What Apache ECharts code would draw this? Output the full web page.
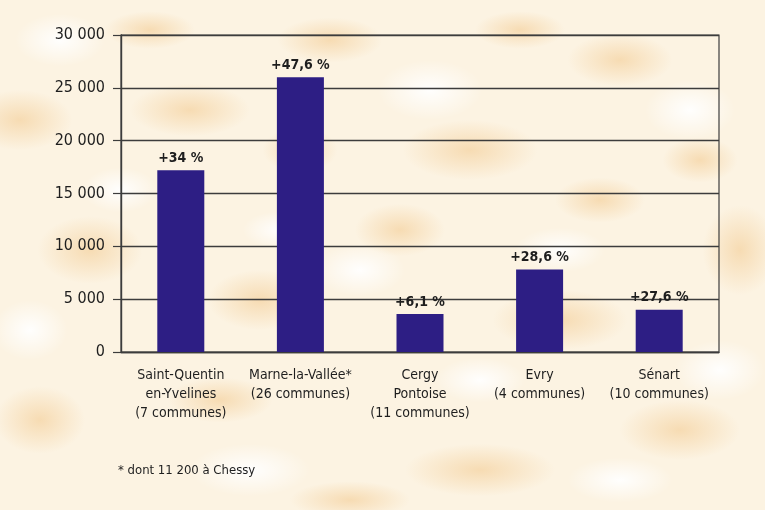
<!DOCTYPE html>
<html>
<head>
<meta charset="utf-8">
<script src="https://cdn.jsdelivr.net/npm/echarts@6/dist/echarts.min.js"></script>
<style>
  html, body { margin: 0; padding: 0; }
  body { width: 765px; height: 510px; overflow: hidden; background-color: #fcf3e2; }
  #chart { width: 765px; height: 510px; position: relative; }
</style>
</head>
<body>
<div id="chart"></div>
<script>
// Villes nouvelles d'Île-de-France : volume et évolution
const categories = [
  'Saint-Quentin\nen-Yvelines\n(7 communes)',
  'Marne-la-Vallée*\n(26 communes)',
  'Cergy\nPontoise\n(11 communes)',
  'Evry\n(4 communes)',
  'Sénart\n(10 communes)'
];
const values = [17200, 26000, 3600, 7800, 4000];
const growthLabels = ['+34 %', '+47,6 %', '+6,1 %', '+28,6 %', '+27,6 %'];
const footnote = '* dont 11 200 à Chessy';

// Paper texture: peach blotches [x, y, rx, ry] and white clearings
const peachSpots = [
  [20, 120, 70, 40], [190, 110, 80, 35], [330, 40, 70, 30], [470, 150, 90, 40],
  [620, 60, 70, 35], [740, 250, 50, 60], [90, 250, 70, 45], [260, 300, 70, 40],
  [400, 230, 60, 35], [560, 320, 90, 40], [680, 430, 80, 40], [480, 470, 100, 35],
  [40, 420, 60, 45], [220, 400, 70, 30], [350, 500, 80, 25], [600, 200, 60, 30],
  [150, 30, 60, 25], [700, 160, 50, 30], [300, 150, 50, 30], [520, 30, 60, 25]
];
const whiteSpots = [
  [60, 40, 60, 35], [430, 90, 70, 40], [690, 110, 60, 40], [360, 270, 60, 35],
  [250, 470, 80, 35], [720, 370, 60, 40], [120, 190, 50, 30], [560, 250, 60, 30],
  [30, 330, 50, 40], [620, 480, 70, 30], [280, 230, 50, 25], [480, 380, 60, 30]
];
const layers = [];
whiteSpots.forEach(([x, y, rx, ry]) => layers.push(
  `radial-gradient(ellipse ${rx}px ${ry}px at ${x}px ${y}px, rgba(255,255,255,0.95), rgba(255,255,255,0) 75%)`));
peachSpots.forEach(([x, y, rx, ry]) => layers.push(
  `radial-gradient(ellipse ${rx}px ${ry}px at ${x}px ${y}px, rgba(242,200,140,0.55), rgba(242,200,140,0) 75%)`));
document.body.style.backgroundImage = layers.join(',');

const FONT = '"DejaVu Sans Condensed", "Liberation Sans Narrow", "Liberation Sans", sans-serif';
const INK = '#1e1e1e';
const BAR = '#2d1e84';
const LINE = '#3c3c3c';

const chart = echarts.init(document.getElementById('chart'), null, { renderer: 'canvas' });

chart.setOption({
  backgroundColor: 'transparent',
  animation: false,
  grid: {
    left: 121, right: 46, top: 35, bottom: 158,
    show: true, borderColor: LINE, borderWidth: 1.2
  },
  xAxis: {
    type: 'category',
    data: categories,
    axisLine: { show: true, lineStyle: { color: LINE, width: 1.4 } },
    axisTick: { show: false },
    axisLabel: {
      interval: 0,
      margin: 14,
      color: INK,
      fontFamily: FONT,
      fontSize: 14,
      lineHeight: 19,
      align: 'center'
    }
  },
  yAxis: {
    type: 'value',
    min: 0, max: 30000, interval: 5000,
    axisLine: { show: true, lineStyle: { color: LINE, width: 1.4 } },
    axisTick: { show: true, length: 8, inside: false, lineStyle: { color: LINE, width: 1.2 } },
    splitLine: { show: true, lineStyle: { color: LINE, width: 1.3 } },
    axisLabel: {
      margin: 16,
      color: INK,
      fontFamily: FONT,
      fontSize: 16,
      formatter: v => String(v).replace(/\B(?=(\d{3})+(?!\d))/g, ' ')
    }
  },
  series: [{
    type: 'bar',
    data: values,
    barWidth: 47,
    itemStyle: { color: BAR },
    label: {
      show: true,
      position: 'top',
      distance: 5,
      color: INK,
      fontFamily: FONT,
      fontSize: 14,
      fontWeight: 'bold',
      formatter: p => growthLabels[p.dataIndex]
    }
  }],
  graphic: [{
    type: 'text',
    left: 118, top: 464,
    style: { text: footnote, fill: INK, font: '13px ' + FONT }
  }]
});
</script>
</body>
</html>
